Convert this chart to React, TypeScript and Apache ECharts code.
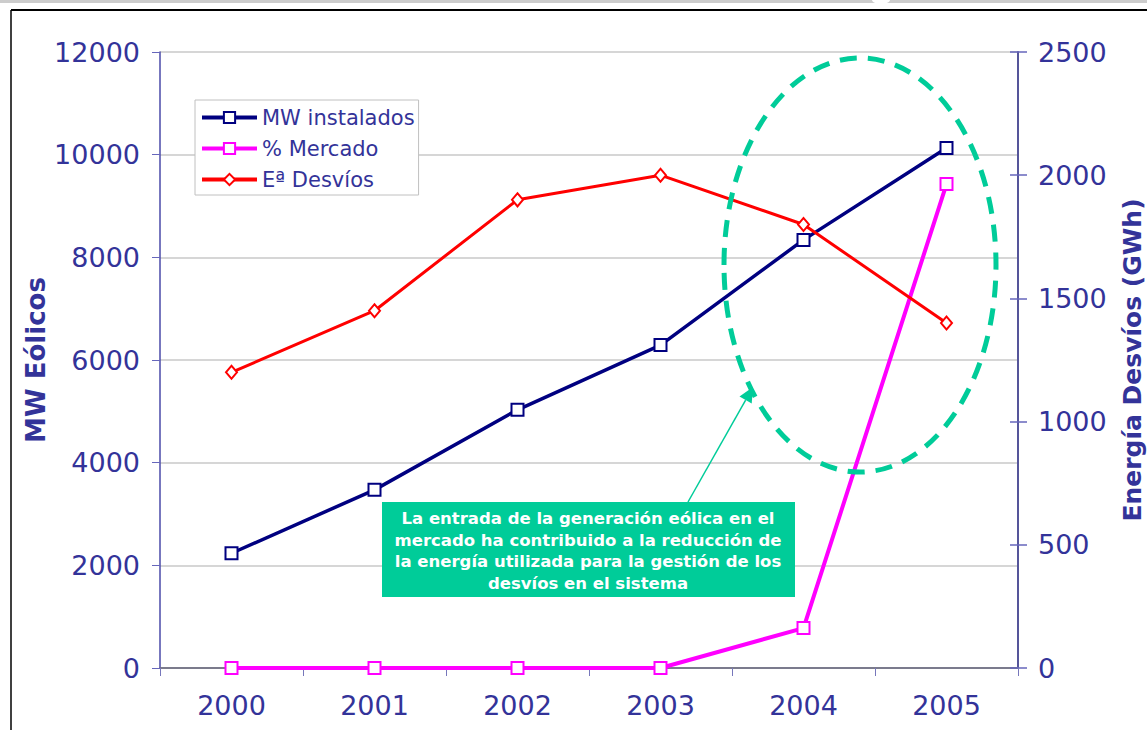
import React, { useEffect, useRef } from "react";
import * as echarts from "echarts";

const years = ["2000", "2001", "2002", "2003", "2004", "2005"];
const mwInstalados = [2235, 3470, 5030, 6290, 8340, 10130];
const mercado = [0, 0, 0, 0, 162, 1964];
const desvios = [1200, 1450, 1900, 2000, 1800, 1400];

const leftMax = 12000;
const leftStep = 2000;
const rightMax = 2500;
const rightStep = 500;

const seriesNames = ["MW instalados", "% Mercado", "Eª Desvíos"];
const leftTitle = "MW Eólicos";
const rightTitle = "Energía Desvíos (GWh)";
const noteLines = [
  "La entrada de la generación eólica en el",
  "mercado ha contribuido a la reducción de",
  "la energía utilizada para la gestión de los",
  "desvíos en el sistema",
];

const FONT = "DejaVu Sans, Verdana, sans-serif";
const TXT = "#333399";
const GREEN = "#00CC99";

export default function App() {
  const ref = useRef<HTMLDivElement>(null);
  useEffect(() => {
    if (!ref.current) return;
    const chart = echarts.init(ref.current, undefined, { renderer: "svg" });

    const ax0 = 688, ay0 = 502, ax1 = 753, ay1 = 387;
    const dx = ax1 - ax0, dy = ay1 - ay0;
    const len = Math.sqrt(dx * dx + dy * dy);
    const ux = dx / len, uy = dy / len;
    const bx = ax1 - 15 * ux, by = ay1 - 15 * uy;
    const px = -uy, py = ux;

    const plain = (v: number) => String(v);

    const option: any = {
      animation: false,
      backgroundColor: "#ffffff",
      textStyle: { fontFamily: FONT },
      grid: { left: 160, right: 129, top: 52, bottom: 62, containLabel: false },
      legend: {
        orient: "vertical",
        left: 195,
        top: 100,
        data: seriesNames,
        backgroundColor: "#ffffff",
        borderColor: "#c0c0c0",
        borderWidth: 1,
        padding: [7, 4, 5, 5],
        itemWidth: 55,
        itemHeight: 14,
        itemGap: 10,
        lineStyle: { width: 4 },
        textStyle: { color: TXT, fontSize: 21, lineHeight: 21, fontFamily: FONT },
      },
      xAxis: [
        {
          type: "category",
          data: years,
          boundaryGap: true,
          axisLine: { lineStyle: { color: "#4a4aa8", width: 1.5 } },
          axisTick: { show: true, inside: false, length: 8, alignWithLabel: false, lineStyle: { color: "#7777bb" } },
          axisLabel: { color: TXT, fontSize: 27, fontFamily: FONT, margin: 24 },
          splitLine: { show: false },
        },
        {
          type: "category",
          data: years,
          position: "top",
          axisLine: { show: true, lineStyle: { color: "#808080", width: 1.5 } },
          axisTick: { show: false },
          axisLabel: { show: false },
        },
      ],
      yAxis: [
        {
          type: "value",
          min: 0,
          max: leftMax,
          interval: leftStep,
          position: "left",
          axisLine: { show: true, lineStyle: { color: "#4a4aa8", width: 1.5 } },
          axisTick: { show: true, length: 8, lineStyle: { color: "#6666bb" } },
          axisLabel: { color: TXT, fontSize: 27, fontFamily: FONT, margin: 20, formatter: plain },
          splitLine: { show: true, lineStyle: { color: "#c8c8c8", width: 1.5 } },
        },
        {
          type: "value",
          min: 0,
          max: rightMax,
          interval: rightStep,
          position: "right",
          axisLine: { show: true, lineStyle: { color: "#55559a", width: 2 } },
          axisTick: { show: true, length: 9, lineStyle: { color: "#6666bb", width: 1.5 } },
          axisLabel: { color: TXT, fontSize: 27, fontFamily: FONT, margin: 20, formatter: plain },
          splitLine: { show: false },
        },
        {
          type: "value",
          min: 0,
          max: rightMax,
          interval: rightStep,
          position: "right",
          axisLine: { show: false },
          axisTick: { show: true, inside: true, length: 8, lineStyle: { color: "#6666bb", width: 1.5 } },
          axisLabel: { show: false },
          splitLine: { show: false },
        },
      ],
      series: [
        {
          name: seriesNames[0],
          type: "line",
          yAxisIndex: 0,
          data: mwInstalados,
          symbol: "rect",
          symbolSize: 12,
          lineStyle: { color: "#000080", width: 3.5 },
          itemStyle: { color: "#ffffff", borderColor: "#000080", borderWidth: 2 },
          z: 3,
        },
        {
          name: seriesNames[1],
          type: "line",
          yAxisIndex: 1,
          data: mercado,
          symbol: "rect",
          symbolSize: 12,
          lineStyle: { color: "#ff00ff", width: 4 },
          itemStyle: { color: "#ffffff", borderColor: "#ff00ff", borderWidth: 2 },
          z: 4,
        },
        {
          name: seriesNames[2],
          type: "line",
          yAxisIndex: 1,
          data: desvios,
          symbol: "diamond",
          symbolSize: [11, 13],
          lineStyle: { color: "#ff0000", width: 3 },
          itemStyle: { color: "#ffffff", borderColor: "#ff0000", borderWidth: 2 },
          z: 5,
        },
      ],
      graphic: [
        { type: "rect", shape: { x: 0, y: 0, width: 1147, height: 3 }, style: { fill: "#cccccc" }, z: 1 },
        { type: "ellipse", shape: { cx: 881, cy: 0, rx: 9, ry: 4 }, style: { fill: "#ffffff" }, z: 2 },
        { type: "line", shape: { x1: 11, y1: 10, x2: 1147, y2: 10 }, style: { stroke: "#000000", lineWidth: 2 }, z: 2 },
        { type: "line", shape: { x1: 11, y1: 10, x2: 11, y2: 730 }, style: { stroke: "#000000", lineWidth: 1.5 }, z: 2 },
        {
          type: "text",
          x: 36,
          y: 360,
          rotation: Math.PI / 2,
          style: { text: leftTitle, fill: TXT, font: `bold 26px ${FONT}`, align: "center", verticalAlign: "middle" },
          z: 10,
        },
        {
          type: "text",
          x: 1132,
          y: 360,
          rotation: Math.PI / 2,
          style: { text: rightTitle, fill: TXT, font: `bold 25px ${FONT}`, align: "center", verticalAlign: "middle" },
          z: 10,
        },
        {
          type: "ellipse",
          shape: { cx: 860, cy: 265, rx: 136, ry: 207 },
          style: { fill: "none", stroke: GREEN, lineWidth: 5, lineDash: [17, 11] },
          z: 20,
        },
        {
          type: "line",
          shape: { x1: ax0, y1: ay0, x2: bx, y2: by },
          style: { stroke: GREEN, lineWidth: 1.5 },
          z: 20,
        },
        {
          type: "polygon",
          shape: {
            points: [
              [ax1, ay1],
              [bx + 7 * px, by + 7 * py],
              [bx - 7 * px, by - 7 * py],
            ],
          },
          style: { fill: GREEN },
          z: 20,
        },
        {
          type: "rect",
          shape: { x: 382, y: 502, width: 413, height: 95 },
          style: { fill: GREEN },
          z: 20,
        },
        {
          type: "text",
          x: 588,
          y: 551,
          style: {
            text: noteLines.join("\n"),
            fill: "#ffffff",
            font: `bold 16.5px ${FONT}`,
            lineHeight: 21.5,
            align: "center",
            verticalAlign: "middle",
          },
          z: 21,
        },
      ],
    };
    chart.setOption(option);
    return () => chart.dispose();
  }, []);
  return (
    <div
      ref={ref}
      style={{ position: "absolute", left: 0, top: 0, width: 1147, height: 730, background: "#fff" }}
    />
  );
}
